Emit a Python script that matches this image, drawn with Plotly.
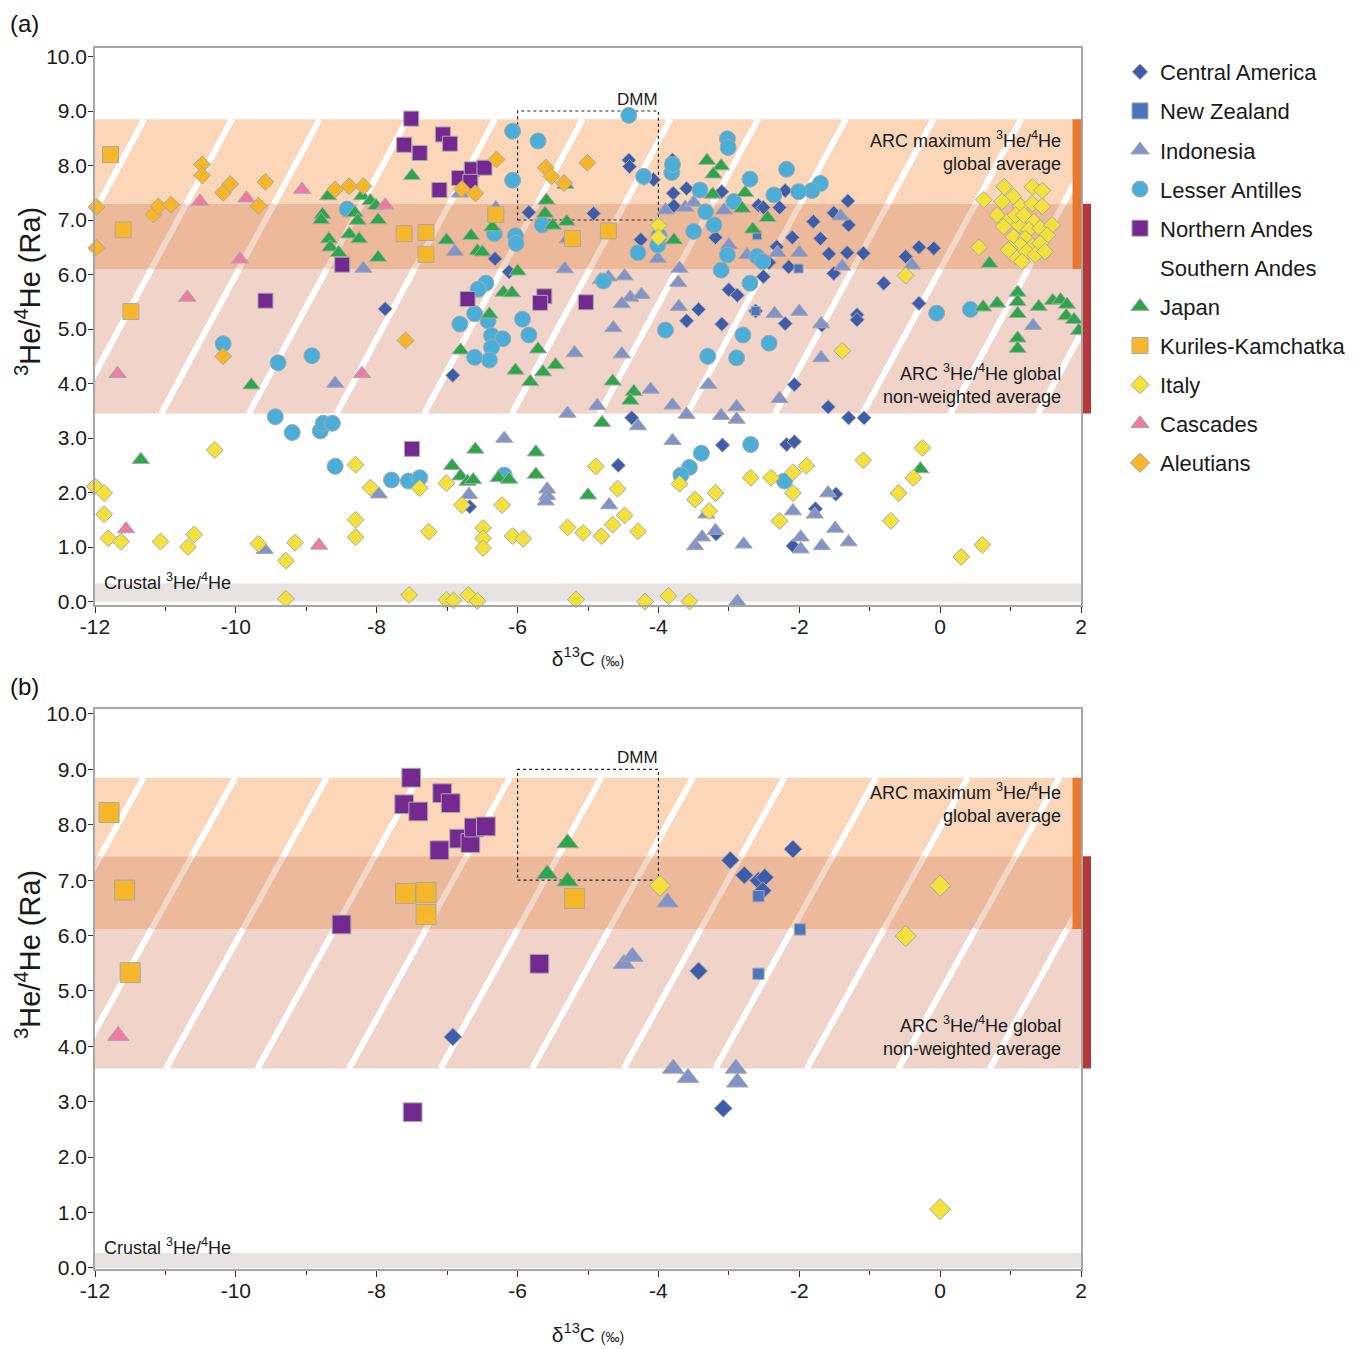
# Arc volcanic gas 3He/4He vs d13C, two panels

import plotly.graph_objects as go

FONT = "Liberation Sans, Arial, sans-serif"
W, H = 1350, 1341   # page body adds an 8 px margin around the figure
OFF = 8

# ---- panel (a) data ----
CA_A_X = [-7.88, -6.32, -6.12, -5.84, -4.92, -4.42, -4.41, -4.25, -4.2, -4.07, -3.8, -3.6, -3.79, -3.78,
          -3.1, -3.19, -2.58, -2.51, -2.28, -2.2, -1.8, -1.51, -1.31, -1.3, -2.1, -1.7, -2.32, -1.58,
          -1.32, -1.09, -2.43, -2.15, -1.51, -2.51, -3.0, -2.88, -3.43, -3.6, -3.1, -2.2, -1.68, -1.18,
          -1.18, -0.8, -0.49, -0.3, -0.09, -0.3, -2.62, -6.92, -4.38, -4.57, -3.09, -2.18, -2.07, -2.07,
          -1.59, -1.3, -1.08, -1.48, -1.77, -2.09, -3.18, -6.68]
CA_A_Y = [5.37, 6.29, 6.05, 7.14, 7.12, 8.1, 7.98, 6.64, 7.76, 7.74, 8.1, 7.58, 7.49, 7.26,
          7.52, 6.68, 7.27, 7.23, 7.23, 7.54, 6.97, 7.13, 7.35, 6.91, 6.68, 6.66, 6.51, 6.38,
          6.4, 6.39, 6.22, 6.14, 6.02, 5.96, 5.72, 5.62, 5.36, 5.15, 5.09, 5.1, 5.07, 5.26,
          5.17, 5.84, 6.33, 6.5, 6.48, 5.47, 5.33, 4.15, 3.37, 2.5, 2.87, 2.88, 2.93, 3.98,
          3.57, 3.37, 3.37, 1.97, 1.7, 1.02, 1.24, 1.74]

NZ_A_X = [-2.62, -2.01, -2.6]
NZ_A_Y = [5.33, 6.11, 6.72]

INDO_A_X = [-8.19, -6.89, -6.82, -6.31, -5.33, -5.29, -4.82, -4.71, -4.48, -4.4, -4.24, -4.52, -4.64,
            -4.52, -5.19, -4.01, -3.7, -3.72, -3.71, -2.35, -2.0, -1.69, -3.9, -3.62, -3.5, -3.07,
            -3.0, -2.74, -2.31, -2.0, -1.41, -1.39, -0.4, 1.32, -4.11, -8.59, -5.29, -4.87, -3.8,
            -3.6, -3.29, -3.11, -2.89, -2.89, -4.29, -3.8, -2.28, -1.69, -4.7, -5.58, -5.58, -5.6,
            -3.48, -3.38, -3.32, -3.19, -2.79, -2.09, -1.98, -1.98, -1.78, -1.68, -1.59, -1.49, -1.3,
            -2.88, -7.97, -9.59, -6.19, -6.69]
INDO_A_Y = [6.11, 6.42, 7.49, 7.22, 6.1, 6.65, 5.9, 5.95, 5.97, 5.58, 5.63, 5.46, 5.02,
            4.54, 4.56, 6.29, 6.11, 5.85, 5.41, 5.28, 5.32, 5.09, 7.18, 7.23, 7.32, 7.18,
            6.54, 6.36, 6.4, 6.4, 7.07, 6.15, 6.17, 5.06, 3.89, 4.0, 3.45, 3.59, 3.6,
            3.43, 3.98, 3.41, 3.57, 3.34, 3.22, 2.95, 3.72, 4.47, 1.77, 2.06, 1.94, 1.84,
            1.02, 1.18, 1.6, 1.3, 1.05, 1.66, 1.18, 0.96, 1.6, 1.02, 1.99, 1.34, 1.09,
            0.0, 1.97, 0.95, 2.99, 1.96]

LA_A_X = [-8.42, -6.07, -5.71, -6.07, -6.33, -6.03, -6.02, -6.45, -6.56, -6.82, -6.61, -6.42, -6.37,
          -6.21, -6.37, -6.4, -6.61, -5.93, -5.84, -5.65, -4.42, -4.21, -3.81, -3.8, -3.02, -3.01,
          -2.7, -2.18, -1.7, -1.82, -2.01, -2.36, -3.41, -3.33, -3.21, -3.5, -2.93, -4.01, -3.99,
          -4.29, -3.02, -2.6, -2.52, -3.11, -2.7, -4.78, -3.9, -2.8, -2.43, -3.3, -2.89, -0.05, 0.43,
          -10.18, -8.92, -9.4, -9.44, -9.2, -8.8, -8.76, -8.63, -8.59, -7.79, -7.55, -7.39, -6.19,
          -2.69, -3.39, -3.56, -3.68, -2.21]
LA_A_Y = [7.2, 8.63, 8.45, 7.73, 6.75, 6.71, 6.57, 5.84, 5.73, 5.09, 5.28, 5.15, 4.88,
          4.82, 4.66, 4.43, 4.48, 5.18, 4.89, 6.91, 8.92, 7.8, 7.87, 8.02, 8.49, 8.33,
          7.75, 7.93, 7.67, 7.54, 7.52, 7.46, 7.55, 7.15, 6.91, 6.79, 7.34, 6.54, 6.71,
          6.4, 6.36, 6.33, 6.24, 6.08, 5.84, 5.88, 4.98, 4.89, 4.74, 4.5, 4.47, 5.29, 5.36,
          4.73, 4.51, 4.38, 3.39, 3.1, 3.13, 3.27, 3.27, 2.48, 2.23, 2.21, 2.27, 2.32,
          2.88, 2.72, 2.46, 2.32, 2.21]

NA_A_X = [-7.51, -7.61, -7.39, -7.06, -6.96, -7.11, -6.83, -6.65, -6.47, -6.67, -8.49, -9.58, -6.71,
          -5.62, -5.68, -5.03, -7.5]
NA_A_Y = [8.86, 8.38, 8.23, 8.57, 8.4, 7.55, 7.77, 7.93, 7.96, 7.7, 6.18, 5.52, 5.55,
          5.6, 5.48, 5.49, 2.8]

JP_A_X = [-7.5, -8.69, -8.77, -8.79, -8.68, -8.66, -8.54, -8.39, -8.31, -8.27, -8.25, -8.21, -8.09,
          -8.01, -7.98, -7.98, -7.01, -6.66, -6.57, -6.5, -6.36, -6.0, -6.2, -6.08, -6.4, -6.81,
          -5.71, -5.59, -5.61, -5.5, -5.3, -5.32, -3.78, -3.31, -3.11, -3.22, -3.23, -2.77, -2.81,
          -2.66, -2.45, 0.7, 0.61, 0.81, 1.1, 1.1, 1.1, 1.4, 1.6, 1.71, 1.8, 1.79, 1.9, 1.97, 1.1,
          1.1, -11.35, -9.78, -6.03, -5.82, -5.64, -5.46, -4.65, -4.35, -4.4, -4.8, -6.6, -5.74,
          -5.74, -6.93, -6.81, -6.71, -6.63, -6.27, -6.12, -5.0, -0.28]
JP_A_Y = [7.81, 7.44, 7.1, 7.0, 6.65, 6.5, 6.4, 6.74, 7.13, 6.99, 6.65, 7.44, 7.35,
          7.26, 7.0, 6.31, 6.63, 6.71, 6.43, 6.41, 6.87, 6.06, 5.67, 5.66, 5.27, 4.61,
          4.63, 7.36, 7.12, 6.9, 6.97, 7.65, 6.63, 8.09, 7.99, 7.84, 7.47, 7.5, 7.21,
          6.83, 7.04, 6.2, 5.4, 5.47, 5.67, 5.5, 5.28, 5.41, 5.52, 5.53, 5.45, 5.24, 5.17, 4.97, 4.83,
          4.64, 2.6, 3.97, 4.24, 4.03, 4.21, 4.34, 4.04, 3.85, 3.69, 3.28, 2.79, 2.74,
          2.33, 2.49, 2.3, 2.2, 2.23, 2.27, 2.24, 1.95, 2.43]

KK_A_X = [-11.78, -11.6, -11.49, -7.61, -7.3, -7.3, -6.31, -5.22, -4.71]
KK_A_Y = [8.2, 6.82, 5.32, 6.75, 6.77, 6.37, 7.1, 6.66, 6.8]

IT_A_X = [0.62, 0.55, 0.91, 1.04, 0.88, 1.31, 1.45, 1.14, 1.31, 1.45, 0.81, 0.95, 1.12, 1.07, 1.19,
          1.33, 1.26, 1.42, 1.59, 1.52, 1.04, 1.21, 1.14, 1.31, 0.99, 1.42, 1.07, 1.23, 1.35, 1.49,
          1.16, 0.97, 0.9, -4.0, -4.0, -0.49, -1.39, -12.0, -11.87, -11.87, -11.81, -11.63, -11.07,
          -10.59, -10.68, -10.3, -9.68, -9.29, -9.16, -9.29, -8.3, -8.09, -8.3, -8.3, -7.54, -7.39,
          -7.26, -7.01, -7.01, -6.91, -6.79, -6.7, -6.57, -6.49, -6.49, -6.49, -6.22, -6.07, -5.92,
          -5.29, -5.07, -4.89, -4.81, -4.65, -4.58, -4.48, -4.29, -5.17, -4.19, -3.86, -3.56, -3.7,
          -3.48, -3.19, -3.28, -2.69, -2.4, -2.09, -1.9, -2.09, -2.28, -1.09, -0.25, -0.38, -0.59,
          -0.7, 0.3, 0.6]
IT_A_Y = [7.37, 6.5, 7.61, 7.43, 7.34, 7.61, 7.54, 7.25, 7.3, 7.25, 7.09, 6.97, 6.91, 7.09, 7.09,
          6.97, 6.82, 6.85, 6.91, 6.72, 6.69, 6.66, 6.54, 6.52, 6.48, 6.57, 6.33, 6.42, 6.36, 6.42,
          6.24, 6.45, 6.88, 6.9, 6.68, 5.98, 4.6, 2.11, 1.99, 1.6, 1.16, 1.1, 1.1,
          1.23, 1.0, 2.78, 1.06, 0.75, 1.08, 0.05, 2.51, 2.09, 1.5, 1.18, 0.12, 2.08,
          1.28, 2.17, 0.03, 0.02, 1.77, 0.12, 0.01, 1.35, 1.16, 0.98, 1.77, 1.2, 1.15,
          1.36, 1.26, 2.48, 1.2, 1.41, 2.07, 1.58, 1.29, 0.04, 0.0, 0.1, 0.0, 2.16,
          1.87, 1.99, 1.66, 2.27, 2.27, 2.37, 2.49, 1.99, 1.48, 2.59, 2.82, 2.27, 1.99,
          1.48, 0.82, 1.04]

CAS_A_X = [-10.51, -9.85, -9.06, -9.94, -10.69, -7.88, -11.68, -8.21, -11.56, -8.82]
CAS_A_Y = [7.34, 7.4, 7.56, 6.28, 5.58, 7.27, 4.18, 4.18, 1.33, 1.03]

AL_A_X = [-11.98, -11.98, -10.48, -10.48, -11.17, -11.1, -10.92, -10.18, -10.08, -9.68, -9.58, -8.59,
          -8.39, -8.19, -6.79, -6.6, -6.3, -5.6, -5.52, -5.34, -5.01, -10.18, -7.59]
AL_A_Y = [7.24, 6.49, 8.02, 7.82, 7.1, 7.25, 7.28, 7.5, 7.66, 7.26, 7.7, 7.56,
          7.62, 7.62, 7.57, 7.49, 8.11, 7.96, 7.8, 7.68, 8.05, 4.5, 4.79]

# ---- panel (b) data ----
CA_B_X = [-6.92, -3.43, -3.08, -2.98, -2.78, -2.58, -2.49, -2.52, -2.09]
CA_B_Y = [4.17, 5.36, 2.88, 7.36, 7.09, 6.99, 7.05, 6.81, 7.56]
NZ_B_X = [-2.58, -1.99, -2.58]
NZ_B_Y = [6.71, 6.11, 5.31]
INDO_B_X = [-3.87, -4.49, -4.37, -3.79, -3.58, -2.9, -2.88]
INDO_B_Y = [6.6, 5.49, 5.62, 3.6, 3.43, 3.6, 3.35]
NA_B_X = [-7.51, -7.61, -7.41, -7.07, -6.95, -7.11, -6.83, -6.67, -6.62, -6.45, -8.5, -5.69, -7.49]
NA_B_Y = [8.85, 8.37, 8.24, 8.57, 8.39, 7.54, 7.75, 7.67, 7.95, 7.97, 6.2, 5.49, 2.81]
JP_B_X = [-5.29, -5.58, -5.29]
JP_B_Y = [7.67, 7.11, 6.98]
KK_B_X = [-11.8, -11.58, -11.5, -7.59, -7.3, -7.3, -5.19]
KK_B_Y = [8.22, 6.82, 5.33, 6.76, 6.78, 6.38, 6.67]
IT_B_X = [-3.98, 0.0, -0.49, 0.0]
IT_B_Y = [6.9, 6.9, 5.99, 1.06]
CAS_B_X = [-11.67]
CAS_B_Y = [4.19]

X_TICKS = [-12, -10, -8, -6, -4, -2, 0, 2]
X_TICKTEXT = ["-12", "-10", "-8", "-6", "-4", "-2", "0", "2"]
Y_TICKS = [0, 1, 2, 3, 4, 5, 6, 7, 8, 9, 10]

# ---- reference bands (Ra) ----
MAX_A = (6.1, 8.85)     # ARC maximum global average, panel a
AVG_A = (3.45, 7.3)     # ARC global non-weighted average, panel a
MAX_B = (6.12, 8.85)
AVG_B = (3.6, 7.43)
CRUST_A = 0.33
CRUST_B = 0.27
DMM = (-6, -4, 7.0, 9.0)

C_MAX = "#fbd6b9"
C_OVL = "#ecb99a"
C_AVG = "#f1d4c9"
C_CRUST = "#e8e3e3"


def px_x(p):
    return (p - OFF) / W


def px_y(p):
    return 1 - (p - OFF) / H


# name, symbol, colour, size, legend size, data a, data b
series = [
    ("Central America", "diamond", "#3f5caa", 11, 12, CA_A_X, CA_A_Y, CA_B_X, CA_B_Y),
    ("New Zealand", "square", "#4b74bb", 9, 16, NZ_A_X, NZ_A_Y, NZ_B_X, NZ_B_Y),
    ("Indonesia", "triangle-up", "#8193c9", 15, 16, INDO_A_X, INDO_A_Y, INDO_B_X, INDO_B_Y),
    ("Lesser Antilles", "circle", "#4aaed8", 16, 16, LA_A_X, LA_A_Y, [], []),
    ("Northern Andes", "square", "#73298f", 15, 16, NA_A_X, NA_A_Y, NA_B_X, NA_B_Y),
    ("Southern Andes", "circle", "rgba(0,0,0,0)", 1, 1, [], [], [], []),
    ("Japan", "triangle-up", "#2ba74a", 15, 16, JP_A_X, JP_A_Y, JP_B_X, JP_B_Y),
    ("Kuriles-Kamchatka", "square", "#f6b72b", 16, 16, KK_A_X, KK_A_Y, KK_B_X, KK_B_Y),
    ("Italy", "diamond", "#f5e13c", 13, 14, IT_A_X, IT_A_Y, IT_B_X, IT_B_Y),
    ("Cascades", "triangle-up", "#ef7ba4", 15, 16, CAS_A_X, CAS_A_Y, CAS_B_X, CAS_B_Y),
    ("Aleutians", "diamond", "#f6b628", 13, 15, AL_A_X, AL_A_Y, [], []),
]

fig = go.Figure()

for name, sym, col, size, lsize, xa, ya, xb, yb in series:
    line = dict(color="#a9a9a9", width=1) if size > 1 else dict(width=0)
    # legend-only entry, so the legend symbols match the key in the original
    fig.add_trace(go.Scatter(
        x=[None], y=[None], mode="markers", name=name, legendgroup=name,
        marker=dict(symbol=sym, color=col, size=lsize, line=line), xaxis="x", yaxis="y"))
    if xa:
        fig.add_trace(go.Scatter(
            x=xa, y=ya, mode="markers", name=name, legendgroup=name, showlegend=False,
            marker=dict(symbol=sym, color=col, size=size, line=line),
            cliponaxis=False, xaxis="x", yaxis="y"))
    if xb:
        fig.add_trace(go.Scatter(
            x=xb, y=yb, mode="markers", name=name, legendgroup=name, showlegend=False,
            marker=dict(symbol=sym, color=col, size=size * 1.25, line=line),
            cliponaxis=False, xaxis="x2", yaxis="y2"))


def add_bands(xr, yr, band_max, band_avg, crust, slope, start, step):
    lo, ov_lo = band_avg[0], band_max[0]
    ov_hi, hi = band_avg[1], band_max[1]
    rects = [(ov_hi, hi, C_MAX), (ov_lo, ov_hi, C_OVL), (lo, ov_lo, C_AVG), (0, crust, C_CRUST)]
    for y0, y1, c in rects:
        fig.add_shape(type="rect", xref=xr, yref=yr, x0=-12, x1=2, y0=y0, y1=y1,
                      fillcolor=c, line_width=0, layer="below")
    # slanted white stripes through both bands
    t = start
    while t < 2 + (hi - lo) / slope + step:
        def xat(y):
            return t - (hi - y) / slope
        for y0, y1, op in [(ov_hi, hi, 1.0), (ov_lo, ov_hi, 0.45), (lo, ov_lo, 1.0)]:
            fig.add_shape(type="line", xref=xr, yref=yr, x0=xat(y0), y0=y0, x1=xat(y1), y1=y1,
                          line=dict(color="white", width=6), opacity=op, layer="below")
        t += step
    # dotted DMM box
    fig.add_shape(type="rect", xref=xr, yref=yr, x0=DMM[0], x1=DMM[1], y0=DMM[2], y1=DMM[3],
                  line=dict(color="#222", width=1.2, dash="dot"), layer="below")
    # side bars
    fig.add_shape(type="rect", xref=xr, yref=yr, x0=1.88, x1=2.0, y0=band_max[0], y1=band_max[1],
                  fillcolor="#e8782f", line_width=0, layer="above")
    fig.add_shape(type="rect", xref="paper", yref=yr, x0=px_x(1083), x1=px_x(1091),
                  y0=band_avg[0], y1=band_avg[1], fillcolor="#b6393a", line_width=0, layer="above")


add_bands("x", "y", MAX_A, AVG_A, CRUST_A, 2.4, -11.3, 1.245)
add_bands("x2", "y2", MAX_B, AVG_B, CRUST_B, 2.3, -11.31, 1.3)

SUP = "<sup>3</sup>He/<sup>4</sup>He"
txt = dict(family=FONT, size=18, color="#1a1a1a")


def add_labels(xr, yr, y_max, y_avg, y_dmm, y_crust):
    fig.add_annotation(x=1.74, y=y_max, xref=xr, yref=yr, xanchor="right", align="right",
                       text=f"ARC maximum {SUP}<br>global average", showarrow=False, font=txt)
    fig.add_annotation(x=1.74, y=y_avg, xref=xr, yref=yr, xanchor="right", align="right",
                       text=f"ARC {SUP} global<br>non-weighted average", showarrow=False, font=txt)
    fig.add_annotation(x=-4.3, y=y_dmm, xref=xr, yref=yr, text="DMM", showarrow=False,
                       font=dict(family=FONT, size=17, color="#1a1a1a"))
    fig.add_annotation(x=-11.9, y=y_crust, xref=xr, yref=yr, xanchor="left", text=f"Crustal {SUP}",
                       showarrow=False, font=txt)


add_labels("x", "y", 8.27, 3.99, 9.22, 0.36)
add_labels("x2", "y2", 8.39, 4.18, 9.22, 0.38)

panel_font = dict(family=FONT, size=24, color="#111")
fig.add_annotation(x=0, y=1, xref="paper", yref="paper", xanchor="left", yanchor="top",
                   text="(a)", showarrow=False, font=panel_font)
fig.add_annotation(x=0, y=px_y(686), xref="paper", yref="paper", xanchor="left", yanchor="middle",
                   text="(b)", showarrow=False, font=panel_font)

# y-axis titles (sit a little above the centre of each panel, as in the original)
ytitle_font = dict(family=FONT, size=29, color="#1a1a1a")
for yc in (292, 955):
    fig.add_annotation(x=px_x(28), y=px_y(yc), xref="paper", yref="paper", xanchor="center",
                       yanchor="middle", textangle=-90, text=f"{SUP} (Ra)", showarrow=False,
                       font=ytitle_font)

tickfont = dict(family=FONT, size=21, color="#1a1a1a")
xt = dict(range=[-12, 2], tickvals=X_TICKS, ticktext=X_TICKTEXT, ticks="outside", ticklen=6,
          tickcolor="#333", showgrid=False, zeroline=False, showline=True, mirror=True,
          linecolor="#a6a6a6", linewidth=1.5, tickfont=tickfont, automargin=False,
          ticklabelstandoff=-4,
          minor=dict(dtick=1, ticks="outside", ticklen=4, tickcolor="#333"))
yt = dict(tickvals=Y_TICKS, tickformat=".1f", ticks="outside", ticklen=5,
          tickcolor="#333", showgrid=False, zeroline=False, showline=True, mirror=True,
          linecolor="#a6a6a6", linewidth=1.5, tickfont=tickfont, automargin=False,
          ticklabelstandoff=-3)
xtitle = "δ<sup>13</sup>C <span style='font-size:14px'>(‰)</span>"
xtitle_font = dict(family=FONT, size=21, color="#1a1a1a")

fig.update_layout(
    width=W, height=H,
    margin=dict(l=0, r=0, t=0, b=0, autoexpand=False),
    paper_bgcolor="white", plot_bgcolor="white",
    xaxis=dict(xt, domain=[px_x(95), px_x(1081)], anchor="y",
               title=dict(text=xtitle, standoff=14, font=xtitle_font)),
    yaxis=dict(yt, domain=[px_y(605), px_y(48)], range=[-0.064, 10.156], anchor="x"),
    xaxis2=dict(xt, domain=[px_x(95), px_x(1081)], anchor="y2",
                title=dict(text=xtitle, standoff=26, font=xtitle_font)),
    yaxis2=dict(yt, domain=[px_y(1269), px_y(709)], range=[-0.02, 10.09], anchor="x2"),
    legend=dict(x=px_x(1120), y=px_y(51), xanchor="left", yanchor="top",
                font=dict(family=FONT, size=22, color="#1a1a1a"),
                tracegroupgap=7.5, bgcolor="rgba(0,0,0,0)"),
    showlegend=True,
)

fig.write_html("out.html")
